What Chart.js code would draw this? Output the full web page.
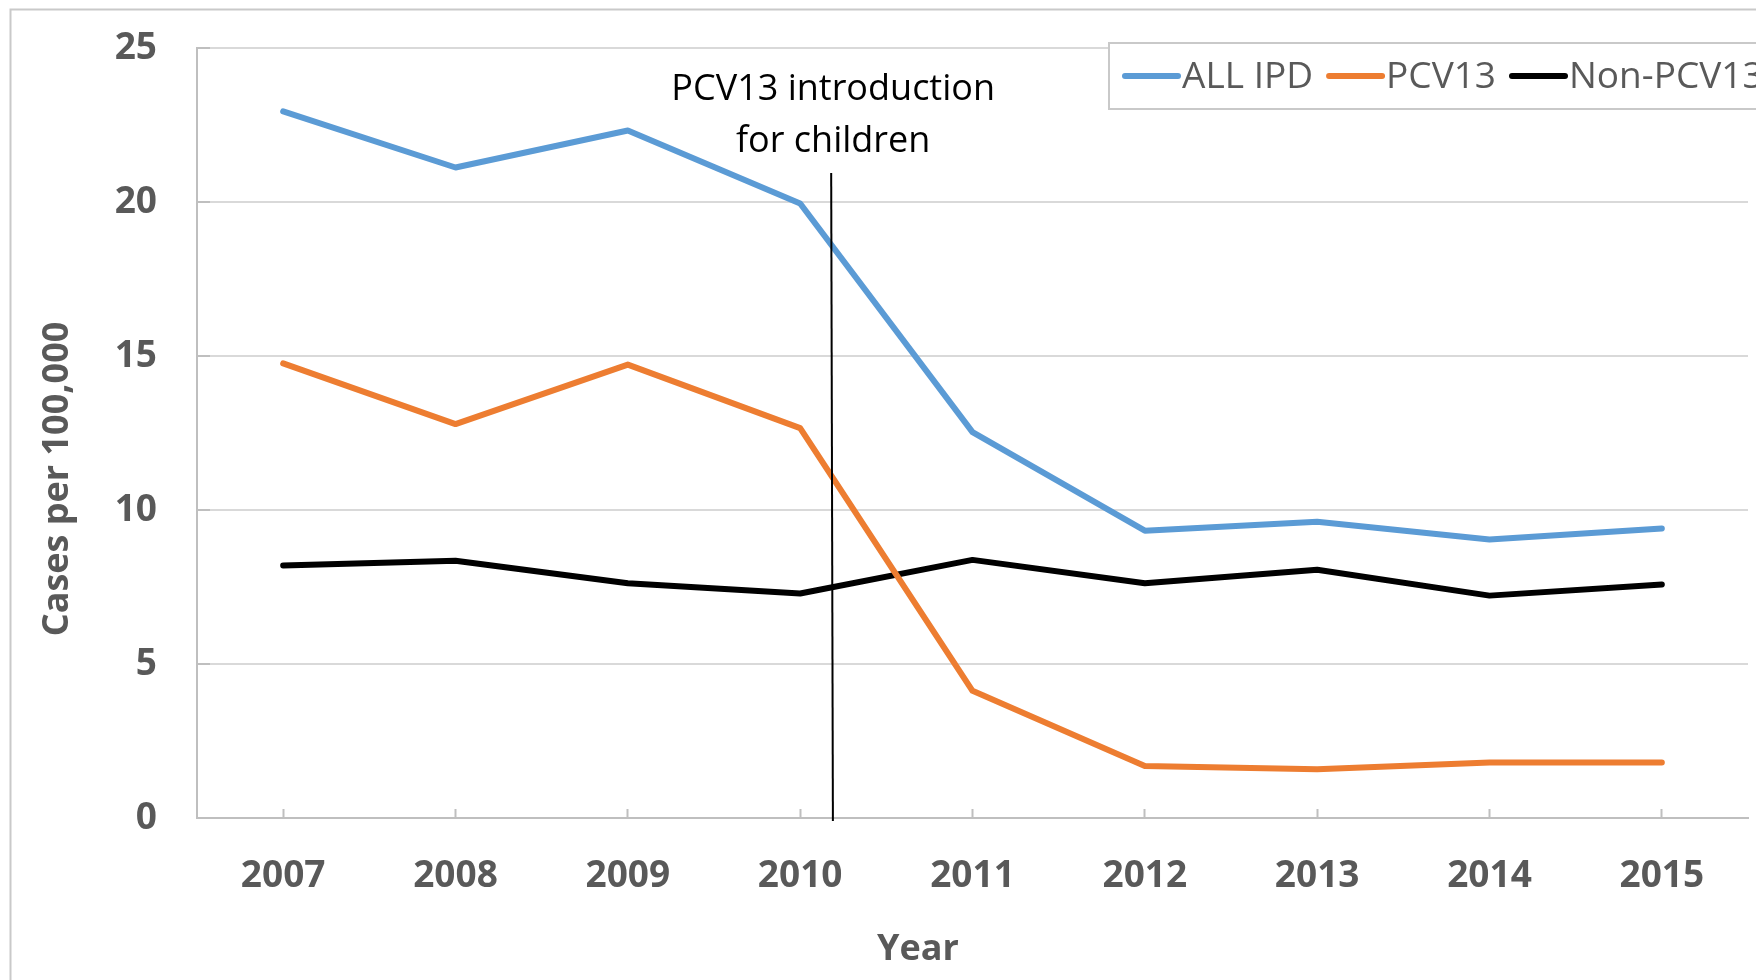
<!DOCTYPE html>
<html>
<head>
<meta charset="utf-8">
<script src="https://cdn.jsdelivr.net/npm/chart.js@4.4.1/dist/chart.umd.min.js"></script>
<style>
  html, body { margin: 0; padding: 0; background: #ffffff; overflow: hidden; }
  canvas { display: block; }
</style>
</head>
<body>
<canvas id="chart" width="1756" height="980"></canvas>
<script>
// ---------------- data ----------------
const years = ['2007', '2008', '2009', '2010', '2011', '2012', '2013', '2014', '2015'];
const allIPD = [22.94, 21.12, 22.32, 19.95, 12.53, 9.33, 9.62, 9.04, 9.40];
const pcv13 = [14.76, 12.79, 14.72, 12.66, 4.13, 1.69, 1.58, 1.80, 1.80];
const nonPCV13 = [8.20, 8.35, 7.62, 7.29, 8.38, 7.62, 8.06, 7.22, 7.58];
const seriesNames = ['ALL IPD', 'PCV13', 'Non-PCV13'];
const seriesColors = ['#5b9bd5', '#ed7d31', '#000000'];
const yTicks = [0, 5, 10, 15, 20, 25];
const xTitle = 'Year';
const yTitle = 'Cases per 100,000';
const introLabel = ['PCV13 introduction', 'for children'];
const introX = [3.18, 3.19];   // category position (top, bottom) of the marker line
const introY = [20.94, -0.1];  // value at top and bottom of the marker line

const FONT = "'Open Sans', 'Noto Sans', sans-serif";
const GRAY = '#595959';

const decor = {
  id: 'decor',
  beforeDraw(chart) {
    const { ctx, width, height } = chart;
    ctx.save();
    ctx.fillStyle = '#ffffff';
    ctx.fillRect(0, 0, width, height);
    ctx.strokeStyle = '#c9c9c9';
    ctx.lineWidth = 2;
    ctx.strokeRect(10.5, 9.5, width + 60, height + 60);
    ctx.restore();
  },
  afterDatasetsDraw(chart) {
    const { ctx, scales: { x, y } } = chart;
    ctx.save();
    // marker line
    const xt = x.getPixelForValue(introX[0]), yt = y.getPixelForValue(introY[0]);
    const xb = x.getPixelForValue(introX[1]), yb = y.getPixelForValue(introY[1]);
    ctx.strokeStyle = '#000000';
    ctx.lineWidth = 2;
    ctx.beginPath();
    ctx.moveTo(xt, yt);
    ctx.lineTo(xb, yb);
    ctx.stroke();
    // marker label
    ctx.fillStyle = '#000000';
    ctx.font = `36px ${FONT}`;
    ctx.textAlign = 'center';
    ctx.textBaseline = 'alphabetic';
    ctx.fillText(introLabel[0], xt + 2, yt - 73);
    ctx.fillText(introLabel[1], xt + 2, yt - 21);

    // axis titles
    ctx.fillStyle = GRAY;
    ctx.font = `bold 36px ${FONT}`;
    ctx.textAlign = 'center';
    ctx.fillText(xTitle, 918, 960);
    ctx.save();
    ctx.translate(68, 479);
    ctx.rotate(-Math.PI / 2);
    ctx.fillText(yTitle, 0, 0);
    ctx.restore();

    // legend
    const lx = 1109, ly = 43, lh = 66;
    ctx.fillStyle = '#ffffff';
    ctx.fillRect(lx, ly, 900, lh);
    ctx.strokeStyle = '#c9c9c9';
    ctx.lineWidth = 2;
    ctx.strokeRect(lx, ly, 900, lh);
    ctx.font = `37px ${FONT}`;
    ctx.textAlign = 'left';
    let cx = lx + 16;
    const cy = ly + 33;
    chart.data.datasets.forEach(ds => {
      ctx.strokeStyle = ds.borderColor;
      ctx.lineWidth = 6;
      ctx.lineCap = 'round';
      ctx.beginPath();
      ctx.moveTo(cx, cy);
      ctx.lineTo(cx + 53, cy);
      ctx.stroke();
      cx += 53 + 4;
      ctx.fillStyle = GRAY;
      ctx.fillText(ds.label, cx, ly + 45);
      cx += ctx.measureText(ds.label).width + 16;
    });
    ctx.restore();
  }
};

const mkDs = (i, data) => ({
  label: seriesNames[i],
  data: data,
  borderColor: seriesColors[i],
  backgroundColor: seriesColors[i],
  borderWidth: 6,
  pointRadius: 0,
  pointHoverRadius: 0,
  tension: 0,
  fill: false,
  borderCapStyle: 'round',
  borderJoinStyle: 'round'
});

new Chart(document.getElementById('chart'), {
  type: 'line',
  data: {
    labels: years,
    datasets: [mkDs(0, allIPD), mkDs(1, pcv13), mkDs(2, nonPCV13)]
  },
  options: {
    responsive: false,
    animation: false,
    devicePixelRatio: 1,
    layout: { padding: { top: 48, right: 8, left: 0, bottom: 0 } },
    plugins: {
      legend: { display: false },
      tooltip: { enabled: false }
    },
    scales: {
      x: {
        offset: true,
        afterFit: s => { s.height = 162; },
        grid: {
          drawOnChartArea: false,
          offset: false,
          tickLength: -9,
          tickColor: '#bfbfbf',
          tickWidth: 2
        },
        border: { color: '#bfbfbf', width: 2 },
        ticks: {
          color: GRAY,
          padding: 45,
          maxRotation: 0,
          font: { family: FONT, size: 37, weight: 'bold' }
        }
      },
      y: {
        min: 0,
        max: 25,
        afterFit: s => { s.width = 197; s.paddingTop = 0; s.paddingBottom = 0; },
        afterBuildTicks: s => { s.ticks = yTicks.map(v => ({ value: v })); },
        grid: {
          color: '#d9d9d9',
          lineWidth: 2,
          tickLength: -13,
          tickColor: '#bfbfbf',
          tickWidth: 2
        },
        border: { color: '#bfbfbf', width: 2 },
        ticks: {
          color: GRAY,
          padding: 53,
          font: { family: FONT, size: 37, weight: 'bold' }
        }
      }
    }
  },
  plugins: [decor]
});
</script>
</body>
</html>
